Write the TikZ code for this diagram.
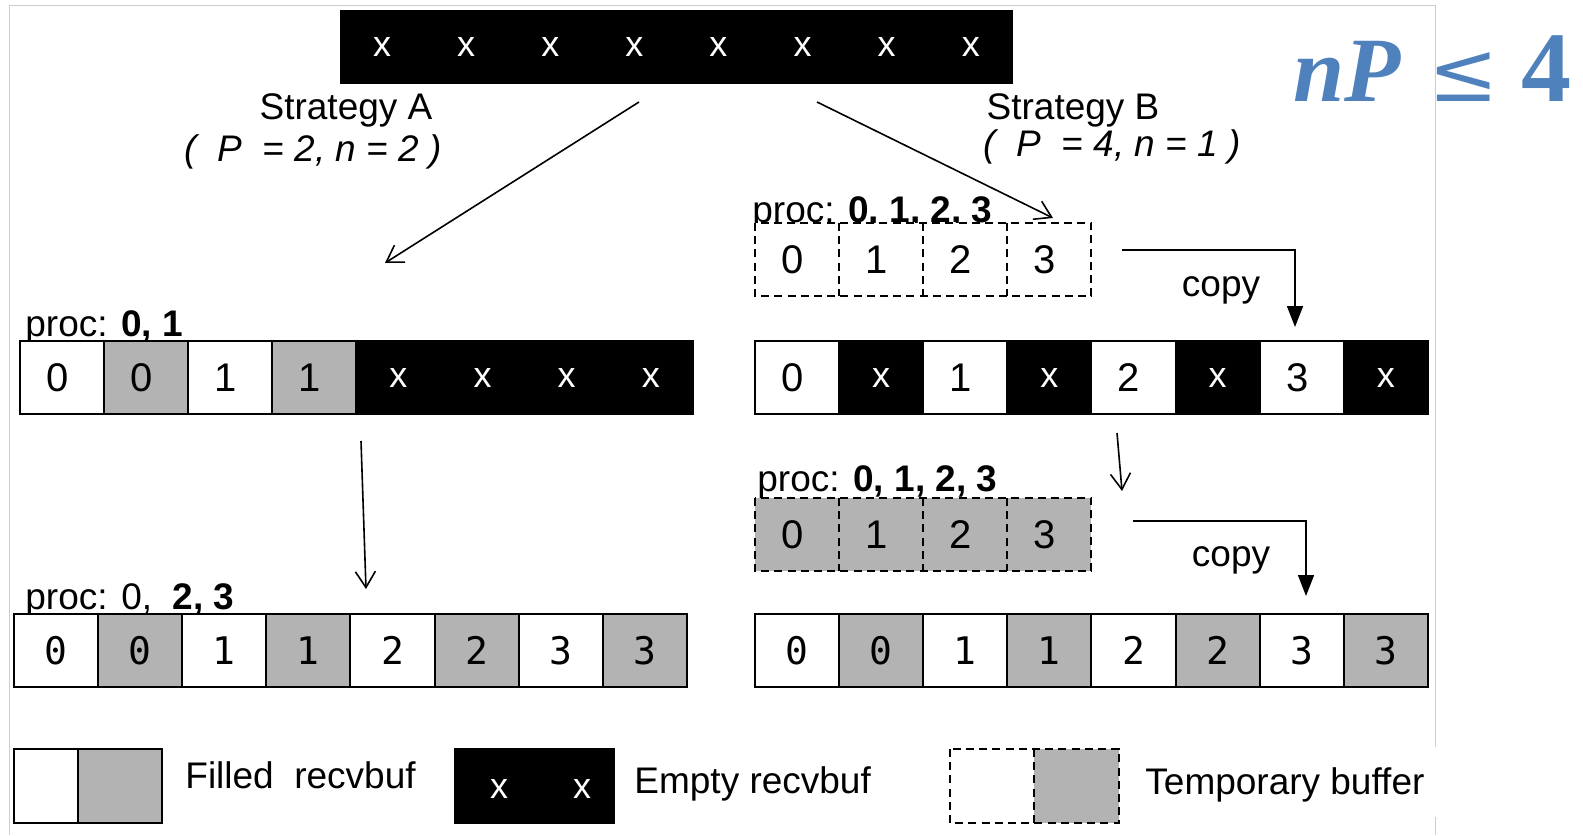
\documentclass[tikz,border=0pt]{standalone}
\usepackage{fontspec}
\setmainfont{Liberation Sans}
\newfontfamily\monodigits{DejaVu Sans Mono}
\newfontfamily\formulaserif{Liberation Serif}
\newfontfamily\formulasym{DejaVu Serif}
\usetikzlibrary{arrows.meta}
\definecolor{cellgray}{RGB}{179,179,179}
\definecolor{framegray}{RGB}{205,205,205}
\definecolor{formulablue}{RGB}{79,129,189}

% sans digits sit a little left of the cell centre
\newcommand{\dg}[1]{#1\kern4.5pt}

\tikzset{
  cellbase/.style={line width=1pt, minimum width=42.05pt, minimum height=36.5pt,
    inner sep=0pt, outer sep=0pt, anchor=north west,
    font=\fontsize{20}{20}\selectfont},
  wcell/.style={cellbase, draw=black, fill=white, text=black},
  gcell/.style={cellbase, draw=black, fill=cellgray, text=black},
  kcell/.style={cellbase, draw=black, fill=black, text=white,
    font=\fontsize{18}{18}\selectfont},
  tcell/.style={cellbase, fill=white, text=black},
  tgcell/.style={cellbase, fill=cellgray, text=black},
  dashline/.style={line width=1pt, dash pattern=on 4pt off 2.6pt},
  lbl/.style={font=\fontsize{18.5}{20}\selectfont, inner sep=0pt},
  proclbl/.style={lbl, anchor=base west},
  openarrow/.style={line width=0.8pt, -{Straight Barb[length=8pt,width=10pt,line width=0.8pt]}},
  copyarrow/.style={line width=0.8pt, -{Triangle[length=10.5pt,width=8pt]}},
}

\begin{document}
\begin{tikzpicture}[x=0.5pt,y=-0.5pt]
\useasboundingbox (0,0) rectangle (1583,835);

% light frame around the figure
\draw[framegray, line width=0.5pt] (9,835) -- (9,5) -- (1435,5) -- (1435,747);
\draw[framegray, line width=0.5pt] (1435,817) -- (1435,835);

% top receive buffer, still empty
\foreach \i in {1,...,8}
  \node[kcell, draw=none, minimum height=37pt] (top-\i) at ({340+(\i-1)*84.1},10) {x};

% strategy captions
\node[lbl] (capA) at (346,110) {Strategy A};
\node[lbl, font=\fontsize{18.5}{20}\selectfont\itshape] (parA) at (313,152) {(\ \ P\ \ = 2, n = 2 )};
\node[lbl] (capB) at (1073,110) {Strategy B};
\node[lbl, font=\fontsize{18.5}{20}\selectfont\itshape] (parB) at (1112,147) {(\ \ P\ \ = 4, n = 1 )};

% condition
\node[anchor=west, inner sep=0pt, text=formulablue] (cond) at (1293,69)
  {\fontsize{46}{46}\selectfont\formulaserif\bfseries\itshape nP\hspace{14pt}{\formulasym\mdseries\upshape\fontsize{42}{42}\selectfont ≤}\hspace{11pt}{\upshape\fontsize{50}{50}\selectfont 4}};

% strategy A: first step
\node[proclbl] (procA1) at (25,336) {proc: \textbf{0, 1}};
\foreach \s/\t [count=\i] in {wcell/\dg{0}, gcell/\dg{0}, wcell/\dg{1}, gcell/\dg{1}, kcell/x, kcell/x, kcell/x, kcell/x}
  \node[\s] (a1-\i) at ({20+(\i-1)*84.1},341) {\t};

% strategy A: second step
\node[proclbl] (procA2) at (25,609) {proc: 0,\ \ \textbf{2, 3}};
\foreach \s/\t [count=\i] in {wcell/0, gcell/0, wcell/1, gcell/1, wcell/2, gcell/2, wcell/3, gcell/3}
  \node[\s, font=\fontsize{19}{20}\selectfont\monodigits] (a2-\i) at ({14+(\i-1)*84.1},614) {\t};

% strategy B: temporary buffer, first step
\node[proclbl] (procB1) at (752,222) {proc: \textbf{0, 1, 2, 3}};
\foreach \t [count=\i] in {0,1,2,3}
  \node[tcell] (t1-\i) at ({755+(\i-1)*84.1},223) {\dg{\t}};
\draw[dashline] (t1-1.north west) rectangle (t1-4.south east);
\foreach \i in {1,2,3}
  \draw[dashline] (t1-\i.north east) -- (t1-\i.south east);

% strategy B: receive buffer after the first copy
\foreach \s/\t [count=\i] in {wcell/\dg{0}, kcell/x, wcell/\dg{1}, kcell/x, wcell/\dg{2}, kcell/x, wcell/\dg{3}, kcell/x}
  \node[\s] (b1-\i) at ({755+(\i-1)*84.1},341) {\t};

% strategy B: temporary buffer, second step
\node[proclbl] (procB2) at (757,491) {proc: \textbf{0, 1, 2, 3}};
\foreach \t [count=\i] in {0,1,2,3}
  \node[tgcell] (t2-\i) at ({755+(\i-1)*84.1},498) {\dg{\t}};
\draw[dashline] (t2-1.north west) rectangle (t2-4.south east);
\foreach \i in {1,2,3}
  \draw[dashline] (t2-\i.north east) -- (t2-\i.south east);

% strategy B: receive buffer after the second copy
\foreach \s/\t [count=\i] in {wcell/0, gcell/0, wcell/1, gcell/1, wcell/2, gcell/2, wcell/3, gcell/3}
  \node[\s, font=\fontsize{19}{20}\selectfont\monodigits] (b2-\i) at ({755+(\i-1)*84.1},614) {\t};

% copy labels
\node[lbl] (copy1) at (1221,290) {copy};
\node[lbl] (copy2) at (1231,560) {copy};

% connector end points
\coordinate (arA-s) at (639,102);
\coordinate (arA-e) at (385,263);
\coordinate (arB-s) at (817,102);
\coordinate (arB-e) at (1053,218);
\coordinate (dnA-s) at (361,441);
\coordinate (dnA-e) at (366,589);
\coordinate (dnB-s) at (1117,433);
\coordinate (dnB-e) at (1122,491);
\coordinate (cp1-s) at (1122,250);
\coordinate (cp1-e) at (1295,327);
\coordinate (cp2-s) at (1133,521);
\coordinate (cp2-e) at (1306,596);

\draw[openarrow] (arA-s) -- (arA-e);
\draw[openarrow] (arB-s) -- (arB-e);
\draw[openarrow] (dnA-s) -- (dnA-e);
\draw[openarrow] (dnB-s) -- (dnB-e);
\draw[copyarrow] (cp1-s) -| (cp1-e);
\draw[copyarrow] (cp2-s) -| (cp2-e);

% legend
\node[wcell, minimum width=32pt, minimum height=37pt] (lg-w) at (14,749) {};
\node[gcell, minimum width=41.75pt, minimum height=37pt] (lg-g) at (78,749) {};
\node[lbl, anchor=west] (lg-filled) at (185,775) {Filled\ \ recvbuf};
\node[kcell, minimum width=79.5pt, minimum height=37pt] (lg-k) at (455,749) {};
\node[text=white, font=\fontsize{18}{18}\selectfont, inner sep=0pt] (lg-x1) at (499,789) {x};
\node[text=white, font=\fontsize{18}{18}\selectfont, inner sep=0pt] (lg-x2) at (582,789) {x};
\node[lbl, anchor=west] (lg-empty) at (634,784) {Empty recvbuf};
\node[tcell, minimum width=42pt, minimum height=37pt] (lg-t) at (950,749) {};
\node[tgcell, minimum width=42.5pt, minimum height=37pt] (lg-tg) at (1034,749) {};
\draw[dashline] (lg-t.north west) rectangle (lg-tg.south east);
\draw[dashline] (lg-t.north east) -- (lg-t.south east);
\node[lbl, anchor=west] (lg-temp) at (1145,785) {Temporary buffer};
\end{tikzpicture}
\end{document}
